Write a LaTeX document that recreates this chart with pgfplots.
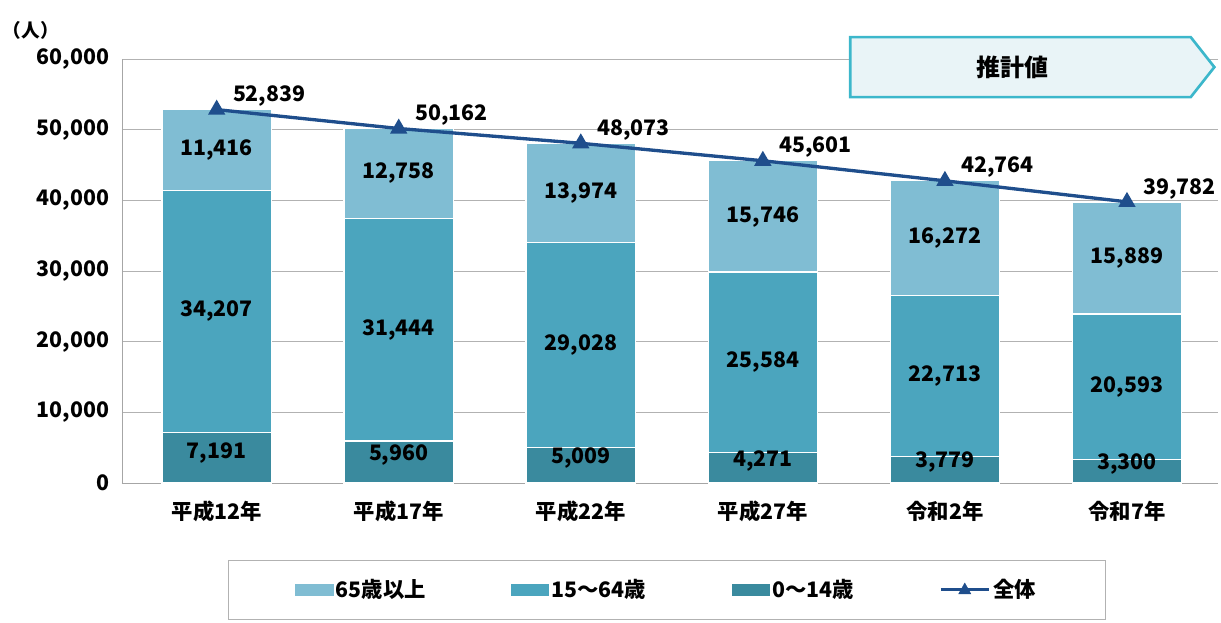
\documentclass[border=0pt]{standalone}
\usepackage{pgfplots}
\pgfplotsset{compat=1.18}
\usepackage{fontspec}
\setmainfont{Noto Sans CJK JP}
\definecolor{cA}{HTML}{3A8A9E}
\definecolor{cB}{HTML}{4BA5BE}
\definecolor{cC}{HTML}{80BDD3}
\definecolor{cL}{HTML}{1F4E8C}
\begin{document}
\begin{tikzpicture}
\fontsize{15}{18}\selectfont
\useasboundingbox (-91.5pt,-104.25pt) rectangle (824.25pt,362.25pt);
\begin{axis}[
  scale only axis, width=822pt, height=318pt,
  xmin=-0.52, xmax=5.5, ymin=0, ymax=60000,
  axis x line*=bottom, axis y line*=left,
  axis line style={gray!70},
  ytick={0,10000,...,60000},
  ymajorgrids, grid style={gray!60},
  /pgf/number format/assume math mode=true,
  scaled y ticks=false,
  yticklabel style={/pgf/number format/1000 sep={,}, font=\fontsize{16}{19}\selectfont\bfseries},
  ytick style={draw=none},
  xtick={0,1,2,3,4,5},
  xticklabels={平成12年,平成17年,平成22年,平成27年,令和2年,令和7年},
  xticklabel style={font=\fontsize{16}{19}\selectfont\bfseries, yshift=-4pt},
  xtick style={draw=none},
  minor xtick={0.5,1.5,2.5,3.5,4.5},
  minor tick length=6pt,
  minor x tick style={gray!70},
  tick align=outside,
  legend style={at={(0.097,-0.182)}, anchor=north west, draw=gray!60,
    legend columns=4, font=\fontsize{16}{19}\selectfont\bfseries,
    /tikz/every even column/.append style={column sep=62pt},
    inner xsep=50pt, inner ysep=12pt},
  clip=false,
]
\addlegendimage{legend image code/.code={\fill[cC] (0pt,-4pt) rectangle (28pt,4pt);}}
\addlegendentry{65歳以上}
\addlegendimage{legend image code/.code={\fill[cB] (0pt,-4pt) rectangle (28pt,4pt);}}
\addlegendentry{15～64歳}
\addlegendimage{legend image code/.code={\fill[cA] (0pt,-4pt) rectangle (28pt,4pt);}}
\addlegendentry{0～14歳}
\addlegendimage{legend image code/.code={\draw[cL,line width=2.5pt] (0pt,0pt)--(36pt,0pt); \fill[cL] (18pt,0pt) ++(0,5pt) -- ++(-4.5pt,-8pt) -- ++(9pt,0) -- cycle;}}
\addlegendentry{全体}
\end{axis}
\begin{axis}[
  scale only axis, width=822pt, height=318pt,
  xmin=-0.52, xmax=5.5, ymin=0, ymax=60000,
  hide axis, ybar stacked, bar width=82pt, clip=false]
\addplot[fill=cA, draw=white, line width=1pt] coordinates {(0,7191) (1,5960) (2,5009) (3,4271) (4,3779) (5,3300)};
\addplot[fill=cB, draw=white, line width=1pt] coordinates {(0,34207) (1,31444) (2,29028) (3,25584) (4,22713) (5,20593)};
\addplot[fill=cC, draw=white, line width=1pt] coordinates {(0,11416) (1,12758) (2,13974) (3,15746) (4,16272) (5,15889)};
\end{axis}
\begin{axis}[
  scale only axis, width=822pt, height=318pt,
  xmin=-0.52, xmax=5.5, ymin=0, ymax=60000,
  hide axis, clip=false]
\addplot[cL, line width=2.5pt, sharp plot, mark=triangle*, mark size=5pt,
  nodes near coords, point meta=explicit symbolic,
  every node near coord/.style={anchor=south west, black, font=\fontsize{16}{19}\selectfont\bfseries, xshift=6pt, yshift=-4pt}]
 coordinates {(0,52839)[52,839] (1,50162)[50,162] (2,48073)[48,073] (3,45601)[45,601] (4,42764)[42,764] (5,39782)[39,782]};
\addplot[only marks, mark=none, nodes near coords, point meta=explicit symbolic,
  every node near coord/.style={anchor=center, black, font=\fontsize{16}{19}\selectfont\bfseries}]
 coordinates {(0,4200)[7,191] (1,3900)[5,960] (2,3500)[5,009] (3,3100)[4,271] (4,2900)[3,779] (5,2700)[3,300]
 (0,24300)[34,207] (1,21700)[31,444] (2,19500)[29,028] (3,17100)[25,584] (4,15100)[22,713] (5,13600)[20,593]
 (0,47100)[11,416] (1,43800)[12,758] (2,41000)[13,974] (3,37700)[15,746] (4,34600)[16,272] (5,31800)[15,889]};
\draw[draw=cB!80!cyan, line width=2pt, fill=cB!12]
  (axis cs:3.48,63100) -- (axis cs:5.35,63100) -- (axis cs:5.48,58850) -- (axis cs:5.35,54600) -- (axis cs:3.48,54600) -- cycle;
\node[font=\fontsize{18}{21}\selectfont\bfseries] at (axis cs:4.37,58850) {推計値};
\node[font=\fontsize{14}{17}\selectfont\bfseries, anchor=south west] at (rel axis cs:-0.115,1.03) {（人）};
\end{axis}
\end{tikzpicture}
\end{document}
